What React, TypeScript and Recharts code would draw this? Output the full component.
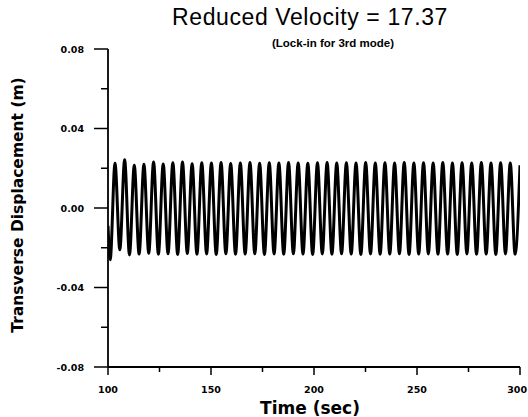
import React from "react";
import { LineChart, Line, XAxis, YAxis } from "recharts";

// Time (s) of start point and of each successive trough / peak
const timeSec: number[] = [
  100.0,
  101.06, 103.4, 105.74, 108.08, 110.42, 112.76, 115.1, 117.44, 119.78, 122.12,
  124.46, 126.8, 129.14, 131.48, 133.82, 136.16, 138.5, 140.84, 143.18, 145.52,
  147.86, 150.2, 152.54, 154.88, 157.22, 159.56, 161.9, 164.24, 166.58, 168.92,
  171.26, 173.6, 175.94, 178.28, 180.62, 182.96, 185.3, 187.64, 189.98, 192.32,
  194.66, 197.0, 199.34, 201.68, 204.02, 206.36, 208.7, 211.04, 213.38, 215.72,
  218.06, 220.4, 222.74, 225.08, 227.42, 229.76, 232.1, 234.44, 236.78, 239.12,
  241.46, 243.8, 246.14, 248.48, 250.82, 253.16, 255.5, 257.84, 260.18, 262.52,
  264.86, 267.2, 269.54, 271.88, 274.22, 276.56, 278.9, 281.24, 283.58, 285.92,
  288.26, 290.6, 292.94, 295.28, 297.62, 300.0,
];

// Transverse displacement (m) at those times
const displacement: number[] = [
  -0.009,
  -0.026, 0.0225, -0.021, 0.0243, -0.0236, 0.0215, -0.0232, 0.022, -0.0228, 0.0232,
  -0.0233, 0.0222, -0.023, 0.0228, -0.0234, 0.0231, -0.0229, 0.0223, -0.0233, 0.0228,
  -0.0231, 0.0226, -0.0234, 0.0229, -0.023, 0.0224, -0.0233, 0.0227, -0.0232, 0.0229,
  -0.023, 0.0225, -0.0234, 0.0228, -0.0231, 0.0226, -0.0233, 0.0229, -0.023, 0.0227,
  -0.0232, 0.0225, -0.0234, 0.0228, -0.0231, 0.0229, -0.0233, 0.0226, -0.023, 0.0228,
  -0.0232, 0.0227, -0.0234, 0.0229, -0.0231, 0.0226, -0.0233, 0.0228, -0.0232, 0.0227,
  -0.023, 0.0229, -0.0234, 0.0226, -0.0232, 0.0228, -0.0231, 0.0227, -0.0233, 0.0229,
  -0.0232, 0.0226, -0.0234, 0.0228, -0.0231, 0.0227, -0.0233, 0.0229, -0.0232, 0.0226,
  -0.0234, 0.0228, -0.0231, 0.0227, -0.0233, 0.0215,
];

const xTicks: number[] = [100, 125, 150, 175, 200, 225, 250, 275, 300];
const xLabeledTicks: number[] = [100, 150, 200, 250, 300];
const yTicks: number[] = [-0.08, -0.06, -0.04, -0.02, 0, 0.02, 0.04, 0.06, 0.08];
const yLabeledTicks: number[] = [-0.08, -0.04, 0, 0.04, 0.08];

const titleText = "Reduced Velocity = 17.37";
const subtitleText = "(Lock-in for 3rd mode)";
const xAxisTitle = "Time (sec)";
const yAxisTitle = "Transverse Displacement (m)";

const data = timeSec.map((t, i) => ({ t, y: displacement[i] }));

const tickFont = "'DejaVu Sans', sans-serif";

const isLabeled = (v: number, list: number[]) =>
  list.some((l) => Math.abs(l - v) < 1e-9);

const XTick = (props: any) => {
  const { x, y, payload } = props;
  const major = isLabeled(payload.value, xLabeledTicks);
  const isLast = Math.abs(payload.value - 300) < 1e-9;
  return (
    <g>
      <line x1={x} x2={x} y1={y} y2={y + (major ? 8 : 5)} stroke="#000" strokeWidth={1.5} />
      {major && (
        <text
          x={isLast ? x + 7 : x}
          y={y + 26}
          textAnchor={isLast ? "end" : "middle"}
          fontFamily={tickFont}
          fontWeight="bold"
          fontSize={9.5}
          fill="#000"
        >
          {payload.value}
        </text>
      )}
    </g>
  );
};

const YTick = (props: any) => {
  const { x, y, payload } = props;
  const major = isLabeled(payload.value, yLabeledTicks);
  return (
    <g>
      <line x1={x - (major ? 14 : 7)} x2={x} y1={y} y2={y} stroke="#000" strokeWidth={1.5} />
      {major && (
        <text
          x={x - 24}
          y={y + 3.5}
          textAnchor="end"
          fontFamily={tickFont}
          fontWeight="bold"
          fontSize={9.5}
          fill="#000"
        >
          {Number(payload.value).toFixed(2)}
        </text>
      )}
    </g>
  );
};

export default function App() {
  return (
    <div style={{ position: "absolute", left: 0, top: 0, background: "#fff" }}>
      <LineChart
        width={528}
        height={417}
        data={data}
        margin={{ top: 49, right: 8, bottom: 0, left: 0 }}
      >
        <text
          x={310}
          y={25}
          textAnchor="middle"
          fontFamily="'Liberation Sans', Arial, sans-serif"
          fontSize={23}
          letterSpacing={0.6}
          fill="#000"
        >
          {titleText}
        </text>
        <text
          x={333}
          y={47}
          textAnchor="middle"
          fontFamily="'Liberation Sans', Arial, sans-serif"
          fontWeight="bold"
          fontSize={11.5}
          fill="#000"
        >
          {subtitleText}
        </text>
        <text
          x={310}
          y={414}
          textAnchor="middle"
          fontFamily={tickFont}
          fontWeight="bold"
          fontSize={17}
          fill="#000"
        >
          {xAxisTitle}
        </text>
        <text
          transform="translate(23, 205) rotate(-90)"
          x={0}
          y={0}
          textAnchor="middle"
          fontFamily={tickFont}
          fontWeight="bold"
          fontSize={15.5}
          fill="#000"
        >
          {yAxisTitle}
        </text>
        <XAxis
          dataKey="t"
          type="number"
          domain={[100, 300]}
          ticks={xTicks}
          interval={0}
          height={50}
          tickSize={0}
          tickMargin={0}
          tickLine={false}
          tick={<XTick />}
          axisLine={{ stroke: "#000", strokeWidth: 1.8 }}
          allowDataOverflow
        />
        <YAxis
          type="number"
          domain={[-0.08, 0.08]}
          ticks={yTicks}
          interval={0}
          width={108}
          tickSize={0}
          tickMargin={0}
          tickLine={false}
          tick={<YTick />}
          axisLine={{ stroke: "#000", strokeWidth: 1.8 }}
          allowDataOverflow
        />
        <Line
          dataKey="y"
          type="monotone"
          stroke="#000"
          strokeWidth={3}
          dot={false}
          isAnimationActive={false}
        />
      </LineChart>
    </div>
  );
}
